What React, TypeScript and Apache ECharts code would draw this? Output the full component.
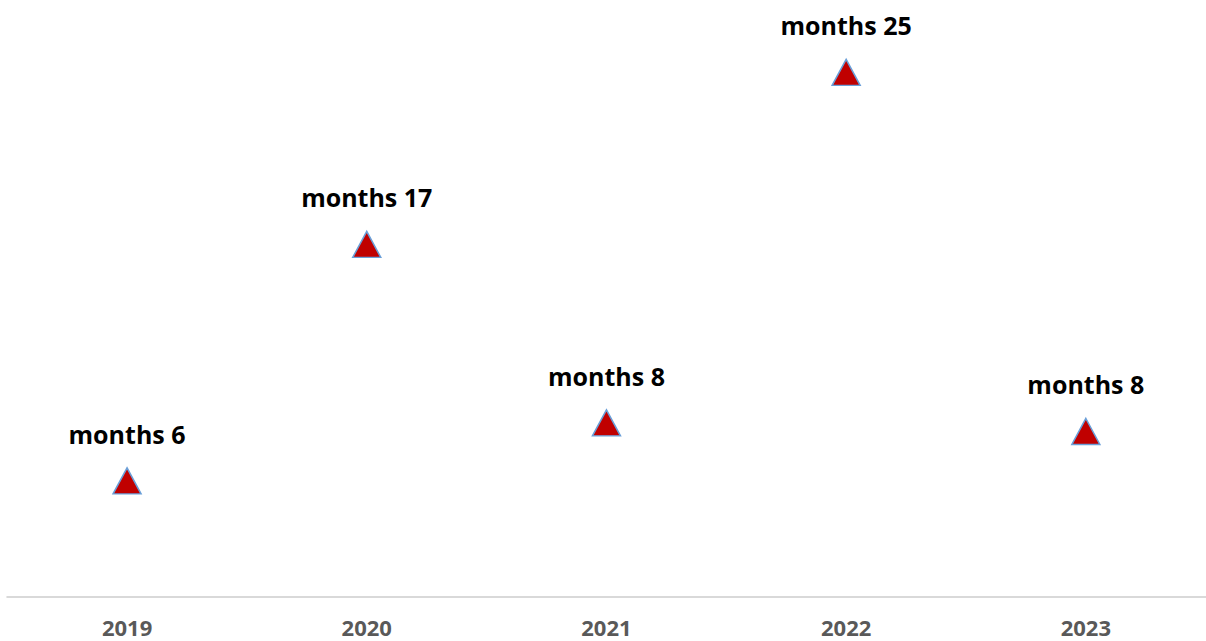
import React, { useEffect, useRef } from "react";
import * as echarts from "echarts";

const years = ["2019", "2020", "2021", "2022", "2023"];
const durations = [6, 17, 8.7, 25, 8.3];
const monthLabels = [6, 17, 8, 25, 8];

export default function App() {
  const ref = useRef<HTMLDivElement>(null);
  useEffect(() => {
    if (!ref.current) return;
    const chart = echarts.init(ref.current, undefined, { renderer: "svg" });
    chart.setOption({
      animation: false,
      backgroundColor: "#ffffff",
      grid: { left: 7.2, right: 0.3, top: 7.9, bottom: 44 },
      xAxis: {
        type: "category",
        data: years,
        boundaryGap: true,
        axisLine: { show: true, lineStyle: { color: "#d9d9d9", width: 2 } },
        axisTick: { show: false },
        axisLabel: {
          color: "#595959",
          fontSize: 22,
          fontWeight: "bold",
          fontFamily: "'Open Sans', sans-serif",
          margin: 19,
        },
        splitLine: { show: false },
      },
      yAxis: {
        type: "value",
        min: 0.6,
        max: 28,
        show: false,
        splitLine: { show: false },
      },
      series: [
        {
          type: "scatter",
          data: durations,
          symbol: "triangle",
          symbolSize: [28, 26],
          itemStyle: { color: "#c00000", borderColor: "#6a9fd8", borderWidth: 1.5, opacity: 1 },
          label: {
            show: true,
            position: "top",
            distance: 21,
            formatter: (p: any) => "months " + monthLabels[p.dataIndex],
            color: "#000000",
            opacity: 1,
            fontSize: 25,
            fontWeight: "bold",
            fontFamily: "'Open Sans', sans-serif",
          },
        },
      ],
    });
    return () => chart.dispose();
  }, []);
  return (
    <div
      ref={ref}
      style={{ position: "fixed", left: 0, top: 0, width: 1206, height: 641 }}
    />
  );
}
